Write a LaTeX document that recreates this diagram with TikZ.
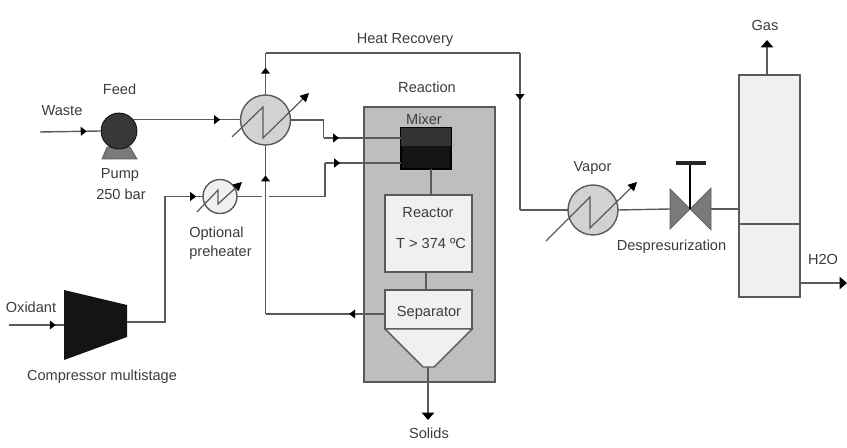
\documentclass[tikz,border=0pt]{standalone}
\usepackage{fontspec}
\setmainfont{Liberation Sans}
\usepackage{tikz}
\usetikzlibrary{arrows.meta}
\usetikzlibrary{decorations.markings}
\definecolor{linegrey}{HTML}{5A5A5A}
\definecolor{textgrey}{HTML}{3C3C3C}
\definecolor{paleunit}{HTML}{F0F0F0}
\definecolor{hxgrey}{HTML}{D2D2D2}
\definecolor{shellgrey}{HTML}{BEBEBE}
\definecolor{valvegrey}{HTML}{7A7A7A}
\tikzset{
  pipe/.style={draw=linegrey,line width=0.8pt},
  flow/.style={postaction={decorate},decoration={markings,
      mark=at position #1 with {\arrow[black]{Triangle[length=3.4pt,width=5pt]}}}},
  outflow/.style={pipe,-{Triangle[length=4.2pt,width=7pt,black]}},
  tag/.style={inner sep=0pt,text=textgrey,font=\fontsize{8.3}{10}\selectfont},
  unit/.style={draw=linegrey,line width=0.8pt,fill=paleunit,inner sep=0pt,outer sep=0pt},
  hx/.style={unit,circle,fill=hxgrey,minimum size=#1},
  zigzag/.style={draw=linegrey,line width=0.7pt,-{Triangle[length=5pt,width=5pt,black]}},
}
\begin{document}
\begin{tikzpicture}[x=0.02cm,y=-0.02cm]
    \useasboundingbox (0,0) rectangle (847,448);
    % units
    \node[unit,fill=shellgrey,minimum width=2.62cm,minimum height=5.5cm] (shell) at (429.5,244.5) {};
    \node[hx=1cm] (hxa) at (265.5,120) {};
    \node[hx=1cm] (hxv) at (593,210) {};
    \node[hx=0.68cm,fill=paleunit] (hxo) at (220,196.5) {};
    \node[unit,minimum width=1.74cm,minimum height=1.54cm] (reactor) at (428.5,233.5) {};
    \node[unit,minimum width=1.74cm,minimum height=0.78cm] (separator) at (428.5,309.5) {};
    \node[unit,minimum width=1cm,minimum height=0.82cm,fill=black!92,draw=black] (mixer) at (426,148.5) {};
    \fill[black!80] (mixer.north west) rectangle (451,146);
    \draw[unit] (385,329) -- (472,329) -- (434,367) -- (423,367) -- cycle;
    \coordinate (hopper) at (428,367);
    \node[unit,minimum width=1.22cm,minimum height=4.44cm] (vessel) at (769.5,186) {};
    \draw[linegrey,line width=0.8pt] (739,224) -- (800,224);
    % pump and compressor
    \fill[valvegrey,draw=linegrey] (107,147) -- (130,147) -- (137,159) -- (102,159) -- cycle;
    \node[circle,fill=black!78,draw=black,minimum size=0.72cm,inner sep=0pt] (pump) at (119,131) {};
    \fill[black!92] (64,290) -- (127,305) -- (127,337) -- (64,360) -- cycle;
    \coordinate (compin) at (64,325);
    \coordinate (compout) at (127,322);
    % valve
    \fill[valvegrey,draw=linegrey] (670,189) -- (690,209) -- (670,229) -- cycle;
    \fill[valvegrey,draw=linegrey] (711,188) -- (690,209) -- (711,230) -- cycle;
    \coordinate (valvel) at (670,209);
    \coordinate (valver) at (711,209);
    \coordinate (valvec) at (690,209);
    \coordinate (handle) at (690,163);
    \draw[black,line width=1.3pt] (valvec) -- (handle);
    \draw[black!85,line width=2.8pt] (676,163) -- (706,163);
    % free ends and bends
    \coordinate (wastein) at (40,132);
    \coordinate (oxin) at (9,325);
    \coordinate (solidsout) at (428,420);
    \coordinate (gasout) at (767,40);
    \coordinate (waterout) at (847,283);
    \coordinate (topleft) at (265.5,53);
    \coordinate (topright) at (520,53);
    \coordinate (vapbend) at (520,210);
    % streams
    \draw[pipe,flow=0.77] (wastein) -- (pump.west);
    \draw[pipe,flow=0.81] (pump.38) -- (pump.38 -| hxa.west);
    \draw[pipe] (hxa.east) -- (323.5,120) -- (323.5,138);
    \draw[pipe,flow=0.2] (323.5,138) -- (mixer.west |- 0,138);
    \draw[pipe,flow=0.85] (oxin) -- (compin);
    \draw[pipe] (compout) -- (165,322) -- (165,196.5);
    \draw[pipe,flow=0.82] (165,196.5) -- (hxo.west);
    \draw[pipe] (hxo.east) -- (262,196.5);
    \draw[pipe] (269,196.5) -- (325,196.5) -- (325,163);
    \draw[pipe,flow=0.2] (325,163) -- (mixer.west |- 0,163);
    \draw[pipe] (431,169) -- (431,195);
    \draw[pipe] (426,272) -- (426,290.5);
    \draw[pipe,flow=0.3] (separator.west |- 0,314) -- (265.5,314);
    \draw[pipe,flow=0.82] (265.5,314) -- (hxa.south);
    \draw[pipe,flow=0.65] (hxa.north) -- (topleft);
    \draw[pipe] (topleft) -- (topright);
    \draw[pipe,flow=0.3] (topright) -- (vapbend);
    \draw[pipe] (vapbend) -- (hxv.west);
    \draw[pipe] (hxv.east) -- (valvel);
    \draw[pipe] (valver) -- (vessel.west |- valver);
    \draw[outflow] (hopper) -- (solidsout);
    \draw[outflow] (767,75) -- (gasout);
    \draw[outflow] (800,283) -- (waterout);
    % exchanger zigzags
    \draw[zigzag,shift={(hxa)}] (-33.5,17) -- (-2.5,-13) -- (-2.5,18) -- (43.5,-27);
    \draw[zigzag,shift={(hxv)}] (-47,31) -- (-3,-13) -- (-3,18) -- (44,-28);
    \draw[zigzag,shift={(hxo)}] (-23,15.5) -- (-2,-6.5) -- (-2,7.5) -- (22,-14.5);
    % labels
    \node[tag] (waste) at (62,111) {Waste};
    \node[tag] (feed) at (119.5,89) {Feed};
    \node[tag] (pumplabel) at (120,175) {Pump};
    \node[tag] (pressure) at (121,194.5) {250 bar};
    \node[tag] (oxidant) at (31,307) {Oxidant};
    \node[tag] (compressor) at (102,377) {Compressor multistage};
    \node[tag,align=left] (optional) at (220.5,243) {Optional\\[1pt]preheater};
    \node[tag] (heat) at (405,40) {Heat Recovery};
    \node[tag] (reaction) at (427,87) {Reaction};
    \node[tag] (mixerlabel) at (424,119) {Mixer};
    \node[tag] (reactorlabel) at (428,213) {Reactor};
    \node[tag] (temperature) at (431,243) {T > 374 ºC};
    \node[tag] (separatorlabel) at (429,313) {Separator};
    \node[tag] (solids) at (429,433) {Solids};
    \node[tag] (vapor) at (592.5,168) {Vapor};
    \node[tag] (valvelabel) at (671.5,247) {Despresurization};
    \node[tag] (gas) at (765,25) {Gas};
    \node[tag] (water) at (823,259) {H2O};
\end{tikzpicture}
\end{document}
